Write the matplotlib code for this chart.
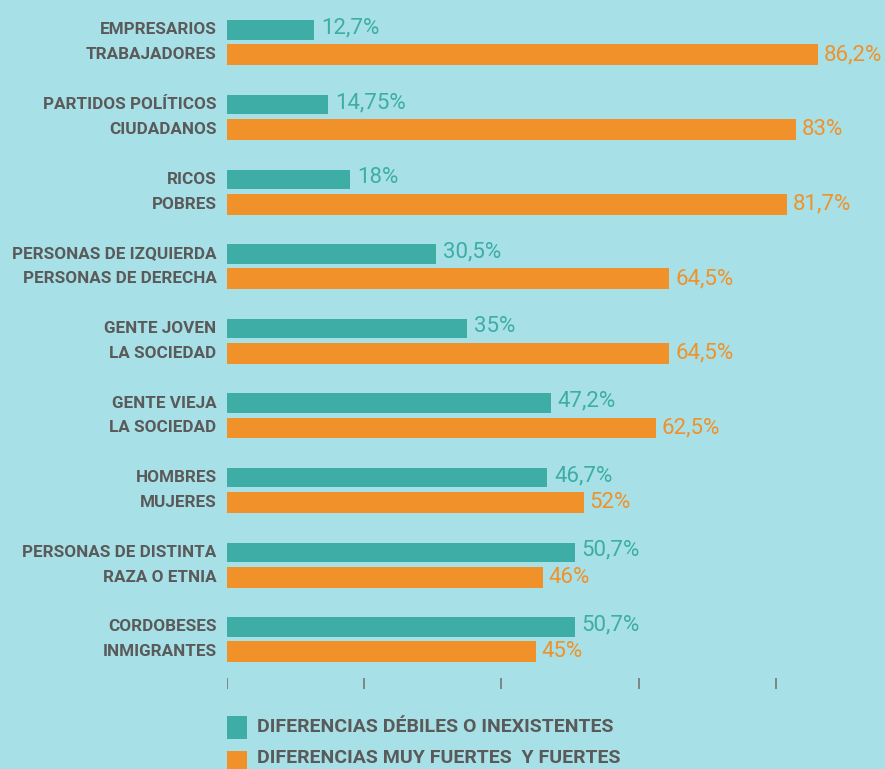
import matplotlib
matplotlib.use('Agg')
import matplotlib.pyplot as plt
from matplotlib.patches import Rectangle

# data
pairs = [('EMPRESARIOS', 'TRABAJADORES'),
         ('PARTIDOS POLÍTICOS', 'CIUDADANOS'),
         ('RICOS', 'POBRES'),
         ('PERSONAS DE IZQUIERDA', 'PERSONAS DE DERECHA'),
         ('GENTE JOVEN', 'LA SOCIEDAD'),
         ('GENTE VIEJA', 'LA SOCIEDAD'),
         ('HOMBRES', 'MUJERES'),
         ('PERSONAS DE DISTINTA', 'RAZA O ETNIA'),
         ('CORDOBESES', 'INMIGRANTES')]
weak = [12.7, 14.75, 18, 30.5, 35, 47.2, 46.7, 50.7, 50.7]
strong = [86.2, 83, 81.7, 64.5, 64.5, 62.5, 52, 46, 45]
weak_txt = ['12,7%', '14,75%', '18%', '30,5%', '35%', '47,2%', '46,7%', '50,7%', '50,7%']
strong_txt = ['86,2%', '83%', '81,7%', '64,5%', '64,5%', '62,5%', '52%', '46%', '45%']
xticks = [0, 20, 40, 60, 80]
legend_labels = ['DIFERENCIAS DÉBILES O INEXISTENTES', 'DIFERENCIAS MUY FUERTES  Y FUERTES']

teal = '#3dada6'
orange = '#f0912a'
bg = '#a7e1e7'
txtc = '#5a5a5a'

plt.rcParams['font.family'] = ['Roboto', 'DejaVu Sans']

fig = plt.figure(figsize=(8.85, 7.69), dpi=100)
fig.patch.set_facecolor(bg)
ax = fig.add_axes([227/885, 0, 658/885, 1])
ax.set_facecolor('none')
ax.axis('off')

ax.set_xlim(0, 658/6.86)
ax.set_ylim(29.71, -1.206)

yw = [3*i for i in range(len(pairs))]
ys = [3*i+1 for i in range(len(pairs))]
ax.barh(yw, weak, height=0.78, color=teal)
ax.barh(ys, strong, height=0.84, color=orange)

lab_fs = 12.3
for i in range(len(pairs)):
    ax.annotate(pairs[i][0], (0, yw[i]), xytext=(-7.5, 0), textcoords='offset points',
                ha='right', va='center', fontsize=lab_fs, fontweight='bold', color=txtc)
    ax.annotate(pairs[i][1], (0, ys[i]), xytext=(-7.5, 0), textcoords='offset points',
                ha='right', va='center', fontsize=lab_fs, fontweight='bold', color=txtc)
    ax.annotate(weak_txt[i], (weak[i], yw[i]), xytext=(5, 1.5), textcoords='offset points',
                ha='left', va='center', fontsize=16, color=teal)
    ax.annotate(strong_txt[i], (strong[i], ys[i]), xytext=(4, 0), textcoords='offset points',
                ha='left', va='center', fontsize=16, color=orange)

# tick marks
ax.vlines(xticks, 26.05, 26.5, color='#777777', lw=1.2)

# legend
sq_top = [716, 751]
txt_y = [727, 758]
for k, (c, lab) in enumerate(zip([teal, orange], legend_labels)):
    fig.add_artist(Rectangle((227/885, 1 - (sq_top[k] + 23)/769), 20/885, 23/769,
                             transform=fig.transFigure, color=c, lw=0))
    fig.text(257/885, 1 - txt_y[k]/769, lab, ha='left', va='center', fontsize=14,
             color=txtc, fontweight='bold')

fig.savefig('out.png', dpi=100, facecolor=bg)
